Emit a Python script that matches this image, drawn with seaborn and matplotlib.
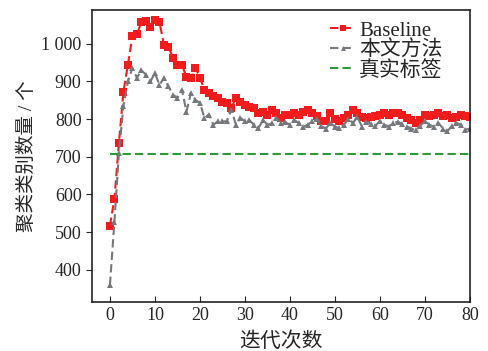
import numpy as np
import pandas as pd
import matplotlib
matplotlib.use("Agg")
import matplotlib.pyplot as plt
import seaborn as sns

# iteration index 0..80
iterations = list(range(81))

baseline = [
    517, 589, 737, 873, 944, 1020, 1025, 1058, 1060, 1045,
    1062, 1058, 997, 992, 963, 944, 944, 912, 910, 936,
    910, 878, 870, 860, 857, 846, 843, 830, 857, 846,
    838, 833, 830, 817, 820, 812, 825, 817, 803, 812,
    812, 815, 812, 818, 825, 815, 808, 794, 796, 817,
    800, 794, 803, 810, 825, 815, 806, 803, 805, 808,
    812, 815, 812, 817, 817, 810, 803, 798, 790, 798,
    812, 808, 810, 817, 808, 812, 803, 806, 810, 808,
    806,
]

proposed = [
    360, 528, 710, 834, 900, 935, 910, 929, 918, 900,
    922, 891, 909, 887, 865, 856, 878, 820, 869, 851,
    843, 803, 812, 785, 794, 794, 794, 825, 785, 803,
    794, 797, 785, 776, 797, 785, 789, 803, 789, 792,
    785, 797, 790, 780, 785, 795, 800, 782, 775, 790,
    780, 776, 785, 800, 790, 805, 780, 793, 788, 782,
    795, 785, 780, 790, 793, 787, 780, 775, 770, 783,
    795, 785, 780, 790, 775, 768, 782, 790, 785, 772,
    775,
]

true_label = 707

series_names = ["Baseline", "本文方法", "真实标签"]
x_ticks = [0, 10, 20, 30, 40, 50, 60, 70, 80]
y_ticks = [400, 500, 600, 700, 800, 900, 1000]
y_tick_labels = ["400", "500", "600", "700", "800", "900", "1 000"]

df = pd.DataFrame({
    "iter": iterations * 3,
    "count": baseline + proposed + [true_label] * len(iterations),
    "method": [series_names[0]] * 81 + [series_names[1]] * 81 + [series_names[2]] * 81,
})

sns.set_style("ticks")
plt.rcParams["font.family"] = ["Liberation Serif", "Noto Sans CJK SC"]

fig = plt.figure(figsize=(4.89, 3.51), dpi=100)
ax = fig.add_axes([0.188, 0.140, 0.773, 0.832])

palette = {"Baseline": "#f21c1c", "本文方法": "#75787c", "真实标签": "#2e9a3a"}
markers = {"Baseline": "s", "本文方法": "^", "真实标签": ""}
msizes = {"Baseline": 5.5, "本文方法": 5, "真实标签": 0}

for name in series_names:
    sub = df[df["method"] == name]
    sns.lineplot(
        data=sub, x="iter", y="count", ax=ax, color=palette[name],
        linestyle="--", linewidth=1.5, dashes=False,
        marker=markers[name] if markers[name] else None,
        markersize=msizes[name],
        markeredgewidth=0, label=name,
    )
for line in ax.lines:
    line.set_dashes([4, 2])

ax.set_xlim(-4, 80)
ax.set_ylim(315, 1090)
ax.set_xticks(x_ticks)
ax.set_yticks(y_ticks)
ax.set_yticklabels(y_tick_labels)
ax.tick_params(axis="x", direction="in", labelsize=13, length=4, pad=4)
ax.tick_params(axis="y", direction="out", labelsize=13, length=4)

for s in ax.spines.values():
    s.set_linewidth(1.2)
    s.set_color("#222222")

ax.set_xlabel("迭代次数", fontsize=15, labelpad=6)
ax.set_ylabel("聚类类别数量 / 个", fontsize=14, labelpad=4)

leg = ax.legend(loc="upper right", frameon=False, fontsize=15,
                handlelength=1.2, handletextpad=0.2, labelspacing=0.0,
                borderaxespad=0.0, bbox_to_anchor=(0.95, 0.99),
                markerscale=0.7)

fig.savefig("out.png", dpi=100)
